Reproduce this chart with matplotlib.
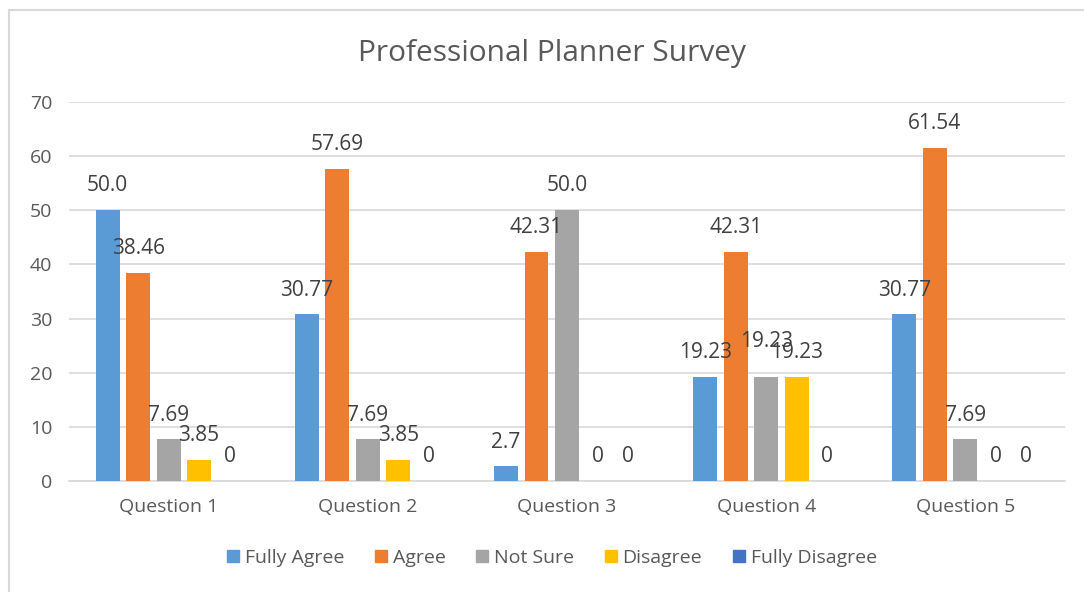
import numpy as np
import matplotlib
matplotlib.use("Agg")
import matplotlib.pyplot as plt
from matplotlib.patches import Patch, Rectangle

plt.rcParams['font.family'] = ['Open Sans', 'DejaVu Sans']

questions = ['Question 1', 'Question 2', 'Question 3', 'Question 4', 'Question 5']
series = ['Fully Agree', 'Agree', 'Not Sure', 'Disagree', 'Fully Disagree']
fully_agree = [50.0, 30.77, 2.7, 19.23, 30.77]
agree = [38.46, 57.69, 42.31, 42.31, 61.54]
not_sure = [7.69, 7.69, 50.0, 19.23, 7.69]
disagree = [3.85, 3.85, 0, 19.23, 0]
fully_disagree = [0, 0, 0, 0, 0]
labels = [
    ['50.0', '30.77', '2.7', '19.23', '30.77'],
    ['38.46', '57.69', '42.31', '42.31', '61.54'],
    ['7.69', '7.69', '50.0', '19.23', '7.69'],
    ['3.85', '3.85', '0', '19.23', '0'],
    ['0', '0', '0', '0', '0'],
]
colors = ['#5B9BD5', '#ED7D31', '#A5A5A5', '#FFC000', '#4472C4']
values = [fully_agree, agree, not_sure, disagree, fully_disagree]

fig = plt.figure(figsize=(10.84, 5.92), dpi=100)
ax = fig.add_axes([69/1084, 1-481/592, (1065-69)/1084, (481-102)/592])

x = np.arange(len(questions))
slot = 0.153
w = 0.12
txt = '#595959'
for i, (name, vals) in enumerate(zip(series, values)):
    pos = x + (i - 2) * slot
    ax.bar(pos, vals, width=w, color=colors[i], zorder=3)
    for j, (px, v, lab) in enumerate(zip(pos, vals, labels[i])):
        dy = 17.5
        # Excel nudged the middle 19.23 label up to avoid its neighbours
        if j == 3 and i == 2:
            dy += 8
        ax.annotate(lab, (px, v), xytext=(0, dy), textcoords='offset points',
                    ha='center', va='center', fontsize=15, color='#404040', zorder=4)

ax.set_xlim(-0.5, 4.5)
ax.set_ylim(0, 70)
ax.set_yticks(range(0, 71, 10))
ax.set_xticks(x)
ax.set_xticklabels(questions)
ax.yaxis.grid(True, color='#D9D9D9', linewidth=1.2, zorder=0)
ax.tick_params(length=0, labelsize=14, colors=txt)
ax.tick_params(axis='x', pad=12)
ax.tick_params(axis='y', pad=12)
for s in ['top', 'right', 'left']:
    ax.spines[s].set_visible(False)
ax.spines['bottom'].set_color('#D9D9D9')
ax.spines['bottom'].set_linewidth(1.2)

fig.text(552/1084, 1-53/592, 'Professional Planner Survey', ha='center', va='center',
         fontsize=21.5, color=txt)

handles = [Patch(color=c, label=s) for c, s in zip(colors, series)]
fig.legend(handles=handles, loc='center', bbox_to_anchor=(552/1084, 1-558/592), ncol=5,
           frameon=False, fontsize=14, handlelength=0.6, handleheight=0.6,
           handletextpad=0.3, columnspacing=1.6, labelcolor=txt)

fig.patches.append(Rectangle((9/1084, -0.01), 1.02, 1-10/592 + 0.01, transform=fig.transFigure,
                             fill=False, edgecolor='#D9D9D9', linewidth=1.5))

fig.savefig('out.png', dpi=100, facecolor='white')
